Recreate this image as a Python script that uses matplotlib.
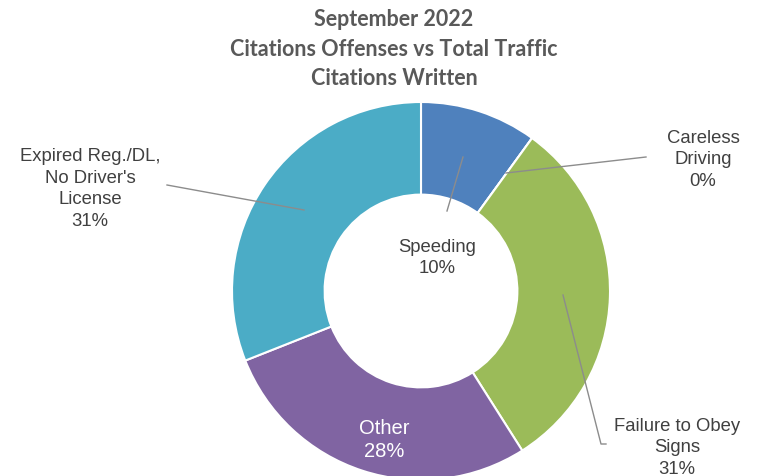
import matplotlib
matplotlib.use("Agg")
import matplotlib.pyplot as plt

# data
categories = ["Speeding", "Careless Driving", "Failure to Obey Signs", "Other",
              "Expired Reg./DL, No Driver's License"]
shares = [10, 0, 31, 28, 31]
colors = ["#4f81bd", "#f79646", "#9bbb59", "#8064a2", "#4bacc6"]

W, H = 772, 477
fig = plt.figure(figsize=(W / 100, H / 100), dpi=100)
ax = fig.add_axes([0, 0, 1, 1])

# pixel-ish coordinates, y measured from the bottom
cx, cy, r = 421, H - 292, 189
ax.pie(shares, colors=colors, startangle=90, counterclock=False,
       center=(cx, cy), radius=r,
       wedgeprops=dict(width=r * 0.49, edgecolor="white", linewidth=1.5))
ax.set_xlim(0, W)
ax.set_ylim(0, H)
ax.set_aspect("equal")
ax.axis("off")

def py(y):
    return H - y

txt = dict(family="Liberation Sans", fontsize=13.3, color="#404040",
           ha="center", va="center", linespacing=1.35)
line = dict(color="#8c8c8c", lw=1)

# Speeding
ax.plot([447, 463], [py(212), py(158)], **line)
ax.text(437, py(258), "Speeding\n10%", **txt)

# Careless Driving
ax.plot([506, 646], [py(174), py(158)], **line)
ax.text(703, py(160), "Careless\nDriving\n0%", **txt)

# Expired
ax.plot([167, 304], [py(186), py(211)], **line)
ax.text(90, py(189), "Expired Reg./DL,\nNo Driver's\nLicense\n31%", **txt)

# Failure to Obey Signs
ax.plot([563, 601, 606], [py(296), py(445), py(445)], **line)
ax.text(677, py(448), "Failure to Obey\nSigns\n31%", **txt)

# Other
ax.text(384, py(440), "Other\n28%", family="Liberation Sans", fontsize=14.5,
        color="white", ha="center", va="center", linespacing=1.3)

ax.text(394, py(49), "September 2022\nCitations Offenses vs Total Traffic\nCitations Written",
        family="Lato", fontsize=15.5, fontweight="bold", color="#595959",
        ha="center", va="center", linespacing=1.5)

fig.savefig("out.png", dpi=100, facecolor="white")
